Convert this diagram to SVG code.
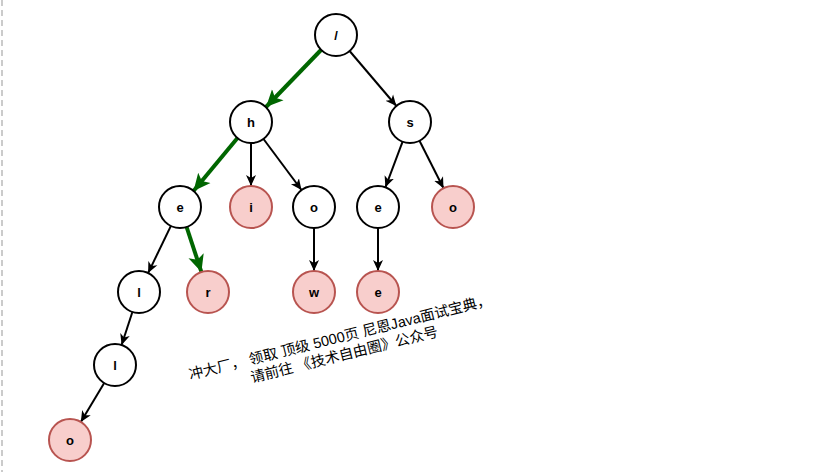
<svg xmlns="http://www.w3.org/2000/svg" width="825" height="472" viewBox="0 0 825 472">
<style>
.n circle{fill:#fff;stroke:#000;stroke-width:2}
.p circle{fill:#f8cecc;stroke:#b85450;stroke-width:2}
text{font-family:"Liberation Sans",Arial,sans-serif;font-size:13px;font-weight:bold;text-anchor:middle;dominant-baseline:central}
.b{stroke:#000;stroke-width:2;fill:none;marker-end:url(#ab)}
.g{stroke:#006600;stroke-width:4;fill:none;marker-end:url(#ag)}
.cap{font-family:"Liberation Sans","Noto Sans CJK SC",sans-serif;font-size:14.5px;font-weight:normal;fill:#000}
</style>
<defs>
<marker id="ab" markerUnits="userSpaceOnUse" markerWidth="12" markerHeight="12" viewBox="0 0 12 12" refX="11" refY="6" orient="auto"><path d="M0,1 L11,6 L0,11 L3,6 Z" fill="#000"/></marker>
<marker id="ag" markerUnits="userSpaceOnUse" markerWidth="18" markerHeight="18" viewBox="0 0 18 18" refX="17" refY="9" orient="auto"><path d="M0,1 L17,9 L0,17 L4,9 Z" fill="#006600"/></marker>
</defs>
<rect width="825" height="472" fill="#fff"/>
<line x1="2" y1="0" x2="2" y2="472" stroke="#bbb" stroke-width="1.5" stroke-dasharray="6 4"/>
<g id="edges">
<line class="g" x1="321" y1="50" x2="266" y2="107"/>
<line class="b" x1="349.6" y1="51" x2="396.4" y2="106"/>
<line class="g" x1="237.5" y1="138" x2="193.5" y2="191"/>
<line class="b" x1="251" y1="143" x2="251" y2="186"/>
<line class="b" x1="263.5" y1="139" x2="301.5" y2="190"/>
<line class="b" x1="402.6" y1="141.7" x2="385.4" y2="187.3"/>
<line class="b" x1="419.5" y1="140.7" x2="443.5" y2="188.3"/>
<line class="b" x1="170.9" y1="225.9" x2="148.1" y2="273.1"/>
<line class="g" x1="186.6" y1="227" x2="201.4" y2="272"/>
<line class="b" x1="314" y1="228" x2="314" y2="271"/>
<line class="b" x1="378" y1="228" x2="378" y2="271"/>
<line class="b" x1="132.4" y1="312" x2="121.6" y2="345"/>
<line class="b" x1="104.2" y1="383" x2="80.8" y2="422"/>
</g>
<g id="root" class="n"><circle cx="336" cy="35" r="21"/><text x="336" y="35">/</text></g>
<g id="h" class="n"><circle cx="251" cy="122" r="21"/><text x="251" y="122">h</text></g>
<g id="s" class="n"><circle cx="410" cy="122" r="21"/><text x="410" y="122">s</text></g>
<g id="he" class="n"><circle cx="180" cy="207" r="21"/><text x="180" y="207">e</text></g>
<g id="hi" class="p"><circle cx="251" cy="207" r="21"/><text x="251" y="207">i</text></g>
<g id="ho" class="n"><circle cx="314" cy="207" r="21"/><text x="314" y="207">o</text></g>
<g id="se" class="n"><circle cx="378" cy="207" r="21"/><text x="378" y="207">e</text></g>
<g id="so" class="p"><circle cx="453" cy="207" r="21"/><text x="453" y="207">o</text></g>
<g id="hel" class="n"><circle cx="139" cy="292" r="21"/><text x="139" y="292">l</text></g>
<g id="her" class="p"><circle cx="208" cy="292" r="21"/><text x="208" y="292">r</text></g>
<g id="how" class="p"><circle cx="314" cy="292" r="21"/><text x="314" y="292">w</text></g>
<g id="see" class="p"><circle cx="378" cy="292" r="21"/><text x="378" y="292">e</text></g>
<g id="hell" class="n"><circle cx="115" cy="365" r="21"/><text x="115" y="365">l</text></g>
<g id="hello" class="p"><circle cx="70" cy="440" r="21"/><text x="70" y="440">o</text></g>
<g id="caption" transform="translate(342,346) rotate(-14)">
<text class="cap" x="0" y="-9">冲大厂， 领取 顶级  5000页 尼恩Java面试宝典，</text>
<text class="cap" x="0" y="9">请前往 《技术自由圈》公众号</text>
</g>
</svg>
